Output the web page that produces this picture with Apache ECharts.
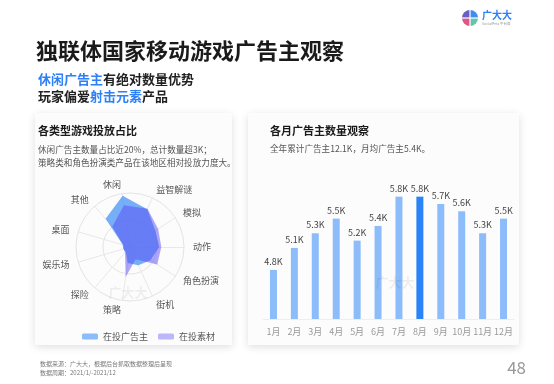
<!DOCTYPE html>
<html>
<head>
<meta charset="utf-8">
<script src="https://cdn.jsdelivr.net/npm/echarts@6/dist/echarts.min.js"></script>
<style>
  html, body { margin: 0; padding: 0; background: #fff; }
  #main { width: 554px; height: 384px; }
</style>
</head>
<body>
<div id="main"></div>
<script>
// radar indicators, listed counterclockwise starting at 休闲 (ECharts draws radar axes counterclockwise)
var radarNames = ['休闲', '其他', '桌面', '娱乐场', '探险', '策略', '街机', '角色扮演', '动作', '模拟', '益智解谜'];
var advertisers = [96, 69, 14, 13, 12, 30, 37, 45, 54, 56, 77];
var creatives = [78, 50, 13, 12, 14, 56, 25, 60, 58, 62, 78];

// monthly advertiser counts (K)
var months = ['1月', '2月', '3月', '4月', '5月', '6月', '7月', '8月', '9月', '10月', '11月', '12月'];
var monthValues = [4.8, 5.1, 5.3, 5.5, 5.2, 5.4, 5.8, 5.8, 5.7, 5.6, 5.3, 5.5];
var highlightMonth = 7;

var FONT = '"Noto Sans CJK SC", "Noto Sans", sans-serif';
var chart = echarts.init(document.getElementById('main'));

function card(x, y, w, h) {
    return {
        type: 'rect', z: -10,
        shape: { x: x, y: y, width: w, height: h },
        style: { fill: '#fcfcfc', shadowBlur: 8, shadowColor: 'rgba(0,0,0,0.13)', shadowOffsetY: 2 }
    };
}

function txt(x, y, text, size, color, weight, align) {
    return {
        type: 'text', z: 5,
        style: {
            x: x, y: y, text: text, fill: color, align: align || 'left', verticalAlign: 'middle',
            font: (weight || 'normal') + ' ' + size + 'px ' + FONT
        }
    };
}

var lx = 470, ly = 18;
var logo = [
    { type: 'sector', shape: { cx: lx, cy: ly, r: 8, startAngle: Math.PI, endAngle: Math.PI * 1.5 }, style: { fill: '#6b5fc7' } },
    { type: 'sector', shape: { cx: lx, cy: ly, r: 8, startAngle: Math.PI * 1.5, endAngle: Math.PI * 2 }, style: { fill: '#3f8cf2' } },
    { type: 'sector', shape: { cx: lx, cy: ly, r: 8, startAngle: 0, endAngle: Math.PI * 0.5 }, style: { fill: '#66c4ab' } },
    { type: 'sector', shape: { cx: lx, cy: ly, r: 8, startAngle: Math.PI * 0.5, endAngle: Math.PI }, style: { fill: '#de5688' } },
    { type: 'line', shape: { x1: lx - 9, y1: ly, x2: lx + 9, y2: ly }, style: { stroke: '#fff', lineWidth: 1.2 } },
    { type: 'line', shape: { x1: lx, y1: ly - 9, x2: lx, y2: ly + 9 }, style: { stroke: '#fff', lineWidth: 1.2 } },
    txt(482, 15, '广大大', 10, '#2f7ff6', 'bold'),
    txt(482, 24, 'SocialPeta 平台版', 3.5, '#999')
];

var option = {
    backgroundColor: '#fff',
    textStyle: { fontFamily: FONT },
    animation: false,
    graphic: [
        card(35, 113, 197, 232),
        card(248, 113, 271, 232),
        txt(36, 51, '独联体国家移动游戏广告主观察', 22, '#1a1a1a', 'bold'),
        {
            type: 'text', z: 5,
            style: {
                x: 38, y: 79, verticalAlign: 'middle',
                text: '{b|休闲广告主}{k|有绝对数量优势}',
                rich: {
                    b: { fill: '#2f80f6', font: 'bold 13px ' + FONT },
                    k: { fill: '#222', font: 'bold 13px ' + FONT }
                }
            }
        },
        {
            type: 'text', z: 5,
            style: {
                x: 38, y: 96, verticalAlign: 'middle',
                text: '{k|玩家偏爱}{b|射击元素}{k|产品}',
                rich: {
                    b: { fill: '#2f80f6', font: 'bold 13px ' + FONT },
                    k: { fill: '#222', font: 'bold 13px ' + FONT }
                }
            }
        },
        txt(38, 131, '各类型游戏投放占比', 11, '#1a1a1a', 'bold'),
        txt(38, 150, '休闲广告主数量占比近20%，总计数量超3K；', 8.6, '#555'),
        txt(38, 163, '策略类和角色扮演类产品在该地区相对投放力度大。', 8.6, '#555'),
        txt(270, 131, '各月广告主数量观察', 11, '#1a1a1a', 'bold'),
        txt(270, 149, '全年累计广告主12.1K，月均广告主5.4K。', 8.6, '#555'),
        txt(128, 292, '广大大', 13, 'rgba(0,0,0,0.06)', 'bold', 'center'),
        txt(395, 282, '广大大', 13, 'rgba(0,0,0,0.06)', 'bold', 'center'),
        txt(40, 364, '数据来源：广大大，根据后台抓取数据整理后呈现', 6, '#777'),
        txt(40, 373, '数据周期：2021/1/-2021/12', 6, '#777'),
        txt(526, 368, '48', 17, '#999', 'normal', 'right')
    ].concat(logo),
    legend: {
        left: 77, top: 327,
        itemWidth: 16, itemHeight: 6, itemGap: 10,
        icon: 'roundRect',
        textStyle: { fontSize: 9, color: '#555' },
        data: [
            { name: '在投广告主', itemStyle: { color: '#8cbcfa' } },
            { name: '在投素材', itemStyle: { color: '#bcb6fb' } }
        ]
    },
    radar: {
        center: [130, 247],
        radius: 54,
        startAngle: 98.18,
        shape: 'circle',
        splitNumber: 2,
        nameGap: 9,
        indicator: radarNames.map(function (n) { return { name: n, max: 100 }; }),
        axisName: { color: '#555', fontSize: 9 },
        splitLine: { lineStyle: { color: '#e4e4e4' } },
        splitArea: { show: false },
        axisLine: { lineStyle: { color: '#e8e8e8' } }
    },
    grid: { left: 263, right: 40, top: 182, bottom: 65 },
    xAxis: {
        type: 'category',
        data: months,
        axisLine: { lineStyle: { color: '#eeeeee' } },
        axisTick: { show: false },
        axisLabel: { color: '#999', fontSize: 9, margin: 8, interval: 0 }
    },
    yAxis: { type: 'value', show: false, min: 4.13, max: 6 },
    series: [
        {
            type: 'radar',
            symbol: 'none',
            data: [
                {
                    name: '在投广告主', value: advertisers,
                    itemStyle: { color: '#549af6' },
                    lineStyle: { width: 0 },
                    areaStyle: { color: '#549af6', opacity: 0.8 }
                },
                {
                    name: '在投素材', value: creatives,
                    itemStyle: { color: 'rgb(88,72,245)' },
                    lineStyle: { width: 0 },
                    areaStyle: { color: 'rgb(88,72,245)', opacity: 0.48 }
                }
            ]
        },
        {
            type: 'bar',
            barWidth: 7,
            data: monthValues.map(function (v, i) {
                return { value: v, itemStyle: { color: i === highlightMonth ? '#2b84f7' : '#8cbcfa' } };
            }),
            label: {
                show: true, position: 'top', distance: 4,
                fontSize: 9, color: '#444',
                formatter: function (p) { return p.value + 'K'; }
            }
        }
    ]
};

chart.setOption(option);
</script>
</body>
</html>
